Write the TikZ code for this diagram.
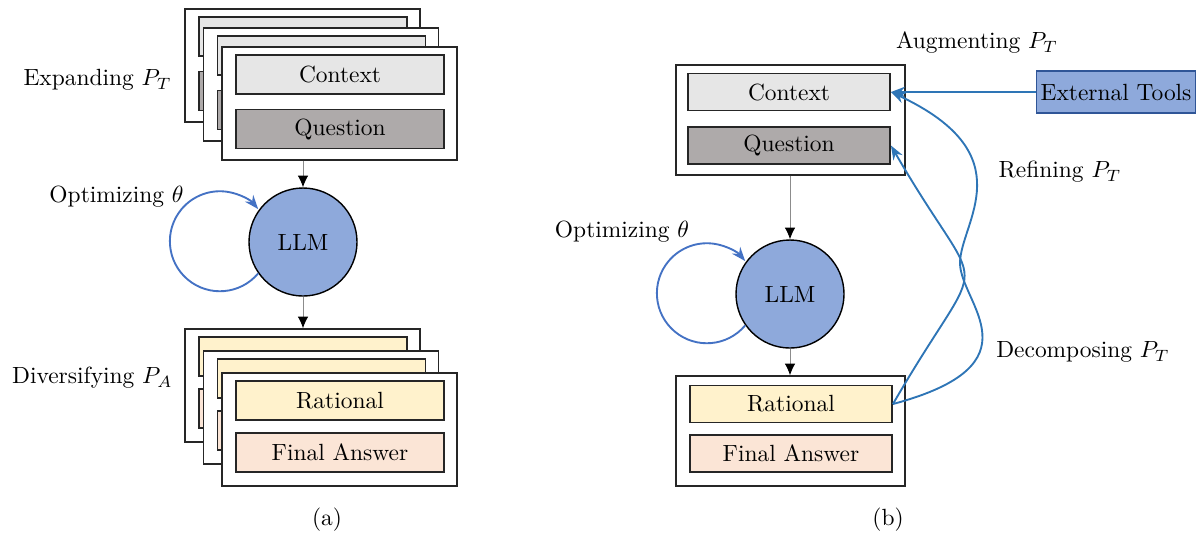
\documentclass[tikz,border=0pt]{standalone}
\usepackage{xcolor}
\usetikzlibrary{arrows.meta}
\definecolor{ctxgray}{RGB}{230,230,230}
\definecolor{qgray}{RGB}{174,170,170}
\definecolor{ratyellow}{RGB}{255,242,204}
\definecolor{anspeach}{RGB}{251,229,214}
\definecolor{llmblue}{RGB}{142,169,219}
\definecolor{toolblue}{RGB}{47,85,151}
\definecolor{arrblue}{RGB}{46,117,182}
\definecolor{loopblue}{RGB}{68,114,196}

\begin{document}
\begin{tikzpicture}[x=0.015cm,y=-0.015cm,
		card/.style={draw=black!85,line width=0.6pt,fill=white,minimum width=3.525cm,minimum height=1.695cm,inner sep=0pt},
		rcard/.style={card,minimum width=3.435cm,minimum height=1.65cm},
		slot/.style={draw=black!85,line width=0.8pt,minimum width=3.12cm,minimum height=0.585cm,inner sep=0pt},
		rslot/.style={slot,minimum width=3.03cm,minimum height=0.555cm},
		model/.style={circle,draw,line width=0.6pt,fill=llmblue,minimum size=1.62cm,inner sep=0pt},
		tag/.style={inner sep=0pt},
		flow/.style={black!45,line width=0.4pt,-{Latex[black,length=5pt,width=4.5pt]}},
		selfloop/.style={loopblue,line width=0.8pt,-{Stealth[length=6pt,width=4.5pt]}},
		tune/.style={arrblue,line width=0.8pt,-{Stealth[length=6pt,width=4.5pt]}}]
	\useasboundingbox (0,0) rectangle (1200,534);

	\foreach \k in {0,1}{
		\node[card] (pt\k) at ({302.5+18.5*\k},{65.5+19*\k}) {};
		\node[slot,fill=ctxgray] (ctx\k) at ({303+18.5*\k},{36.5+19*\k}) {};
		\node[slot,fill=qgray] (qst\k) at ({303+18.5*\k},{91+19*\k}) {};
		\node[card] (pa\k) at ({302.5+18.5*\k},{385.5+22*\k}) {};
		\node[slot,fill=ratyellow] (rat\k) at ({303+18.5*\k},{356.5+22*\k}) {};
		\node[slot,fill=anspeach] (ans\k) at ({303+18.5*\k},{408.5+22*\k}) {};
	}
	\node[card] (pt2) at (339.5,103.5) {};
	\node[slot,fill=ctxgray] (ctx2) at (340,74.5) {Context};
	\node[slot,fill=qgray] (qst2) at (340,129) {Question};
	\node[card] (pa2) at (339.5,429.5) {};
	\node[slot,fill=ratyellow] (rat2) at (340,400.5) {Rational};
	\node[slot,fill=anspeach] (ans2) at (340,452.5) {Final Answer};
	\node[model] (llm1) at (303,242) {LLM};
	\node[tag,anchor=east] (expand) at (172,80) {Expanding $P_T$};
	\node[tag,anchor=east] (opt1) at (184,197) {Optimizing $\theta$};
	\node[tag,anchor=east] (divers) at (173,378) {Diversifying $P_A$};
	\draw[flow] (llm1 |- pt2.south) -- (llm1.north);
	\draw[flow] (llm1.south) -- (llm1 |- pa0.north);
	\draw[selfloop] (llm1.215) arc[start angle=-40,end angle=-320,radius=0.75cm];
	\node (capa) at (327,520) {(a)};

	\node[rcard] (prompt) at (790.5,120) {};
	\node[rslot,fill=ctxgray] (ctx) at (789,92) {Context};
	\node[rslot,fill=qgray] (qst) at (789,145.5) {Question};
	\node[model] (llm2) at (790,294) {LLM};
	\node[rcard] (answer) at (790.5,431) {};
	\node[rslot,fill=ratyellow] (rat) at (791,404) {Rational};
	\node[rslot,fill=anspeach] (ans) at (791,453.5) {Final Answer};
	\node[draw=toolblue,line width=0.8pt,fill=llmblue,inner sep=1pt,minimum width=2.385cm,minimum height=0.63cm] (tools) at (1116,92) {External Tools};
	\node (opt2) at (622,232) {Optimizing $\theta$};
	\node (augment) at (977,43) {Augmenting $P_T$};
	\node (refine) at (1060,172) {Refining $P_T$};
	\node (decomp) at (1083,352) {Decomposing $P_T$};
	\coordinate (twist) at (960,263);
	\draw[flow] (llm2 |- prompt.south) -- (llm2.north);
	\draw[flow] (llm2.south) -- (llm2 |- answer.north);
	\draw[selfloop] (llm2.215) arc[start angle=-40,end angle=-320,radius=0.75cm];
	\draw[tune] (tools.west) -- (ctx.east);
	\draw[tune] (rat.east) to[out=60,in=-60,looseness=1.9] (qst.east);
	\draw[tune] (rat.east) .. controls +(149,-40) and +(0,40) .. (twist) .. controls +(0,-40) and +(135,63) .. (ctx.east);
	\node (capb) at (888,520) {(b)};
\end{tikzpicture}
\end{document}
